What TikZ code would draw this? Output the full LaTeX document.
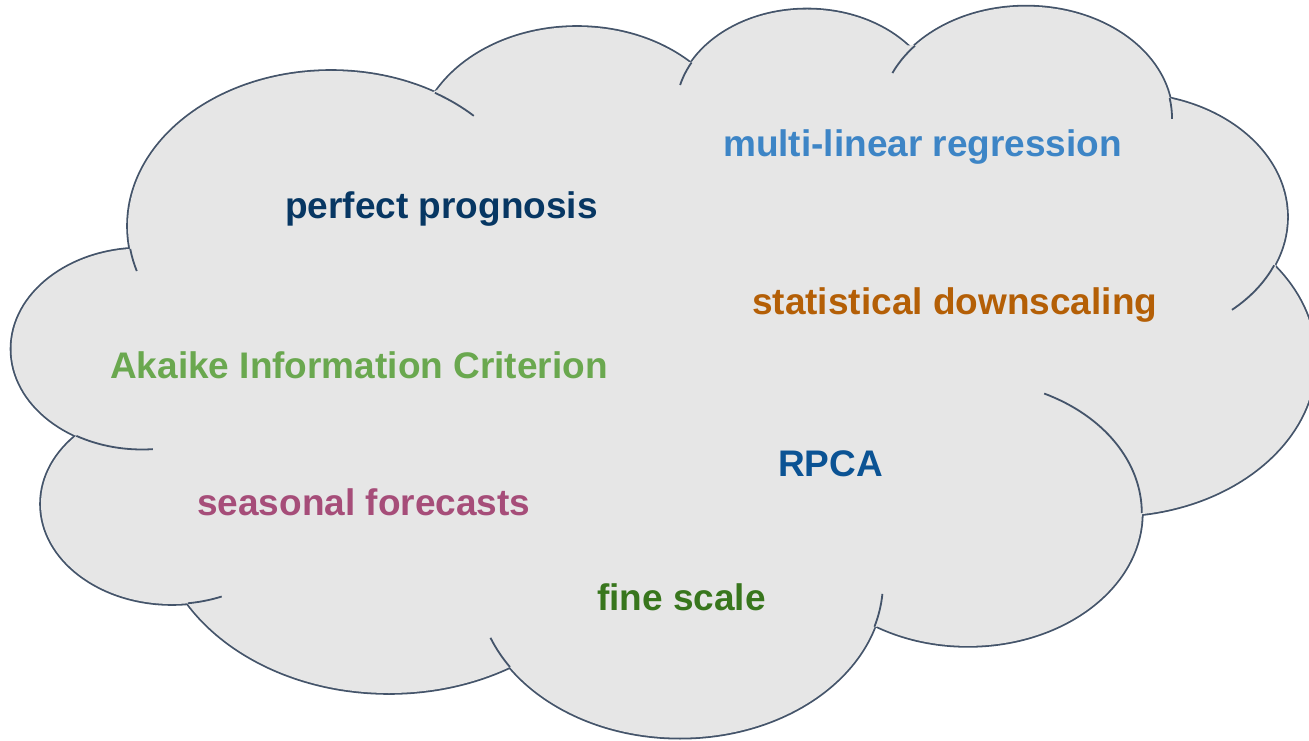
\documentclass[tikz,border=0pt]{standalone}
\usepackage{fontspec}
\setmainfont{Liberation Sans}
\usepackage{tikz}
\usetikzlibrary{calc}

\definecolor{cloudline}{HTML}{44546A}
\definecolor{cloudfill}{HTML}{E6E6E6}
\definecolor{navy}{HTML}{073763}
\definecolor{lightblue}{HTML}{3D85C6}
\definecolor{rust}{HTML}{B45F06}
\definecolor{leaf}{HTML}{6AA84F}
\definecolor{deepblue}{HTML}{0B5394}
\definecolor{plum}{HTML}{A64D79}
\definecolor{forest}{HTML}{38761D}

\tikzset{
	lobe/.style={cloudline, line width=3.6pt},
	seam/.style={cloudline, line width=1.8pt},
	word/.style={anchor=base west, inner sep=0pt, font=\fontsize{37}{44}\selectfont\bfseries}
}

\begin{document}
\begin{tikzpicture}[x=1pt,y=1pt]
			\useasboundingbox (0,0) rectangle (1309,740);
			% lobes of the cloud: centre x / centre y / x radius / y radius
			\def\lobes{331/514/203/155, 577/590/160/123, 807/630/131/100.5, 1026/622/146/111.4,
				1127/523/160/123, 1112/380/203.5/155.8, 968/227/173.8/132.9, 680/158/203/155.7,
				389/225/232/178, 172/236/131/100, 142/391/130.5/100.5}
			\foreach \cx/\cy/\rx/\ry in \lobes
				\draw[lobe] (\cx,\cy) ellipse[x radius=\rx pt, y radius=\ry pt];
			\foreach \cx/\cy/\rx/\ry in \lobes
				\fill[cloudfill] (\cx,\cy) ellipse[x radius=\rx pt, y radius=\ry pt];
			\fill[cloudfill] (130,491) -- (437,650) -- (690,678) -- (914,695) -- (1171,642) -- (1276,474)
				-- (1142,226) -- (876,113) -- (510,73) -- (188,137) -- (77,305) -- cycle;
			% short inner arcs where the lobes meet
			\foreach \cx/\cy/\rx/\ry/\a/\b in {331/514/203/155/196.9/188.5, 331/514/203/155/59.2/45.3,
				807/630/131/100.5/165.6/151.8, 1026/622/146/111.4/156.2/139.5, 1026/622/146/111.4/10.3/-0.5,
				1127/523/160/123/-23.1/-49, 968/227/173.8/132.9/64/0, 680/158/203/155.7/-4.4/-16.7,
				680/158/203/155.7/213.1/201, 172/236/131/100/-83/-67.7, 142/391/130.5/100.5/-120.2/-85.2}
				\draw[seam] (\cx,\cy) ++(\a:\rx pt and \ry pt) arc[start angle=\a, end angle=\b, x radius=\rx pt, y radius=\ry pt];

			\node[word, text=navy] (pp) at (285,521) {perfect prognosis};
			\node[word, text=lightblue] (mlr) at (723,583) {multi-linear regression};
			\node[word, text=rust] (sd) at (752,425) {statistical downscaling};
			\node[word, text=leaf] (aic) at (110,362) {Akaike Information Criterion};
			\node[word, text=deepblue] (rpca) at (778,264) {RPCA};
			\node[word, text=plum] (sf) at (197,225) {seasonal forecasts};
			\node[word, text=forest] (fs) at (597,130) {fine scale};
		\end{tikzpicture}
\end{document}
